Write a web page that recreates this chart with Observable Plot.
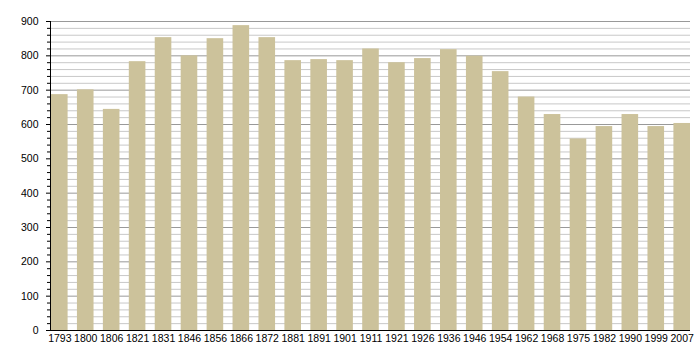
<!DOCTYPE html>
<html>
<head>
<meta charset="utf-8">
<script src="https://cdn.jsdelivr.net/npm/d3@7"></script>
<script src="https://cdn.jsdelivr.net/npm/@observablehq/plot@0.6"></script>
<style>
  html, body { margin: 0; padding: 0; background: #fff; }
  #chart svg { display: block; }
</style>
</head>
<body>
<div id="chart"></div>
<script>
const years = ["1793","1800","1806","1821","1831","1846","1856","1866","1872","1881","1891","1901","1911","1921","1926","1936","1946","1954","1962","1968","1975","1982","1990","1999","2007"];
const population = [687, 701, 644, 783, 853, 800, 850, 888, 853, 786, 789, 786, 820, 780, 792, 818, 799, 754, 680, 629, 558, 594, 629, 594, 603];
const majorTicks = d3.range(0, 901, 100);
const minorTicks = d3.range(0, 901, 20).filter(d => d % 100 !== 0);

const data = years.map((y, i) => ({year: y, value: population[i]}));

const chart = Plot.plot({
  width: 700,
  height: 360,
  marginLeft: 50,
  marginRight: 10,
  marginTop: 21,
  marginBottom: 30,
  style: {fontFamily: "'Liberation Sans', Arial, sans-serif", fontSize: "10.5px", color: "#000", background: "#fff"},
  x: {domain: years, range: [51, 690], round: false, paddingInner: 0.36, paddingOuter: 0, label: null},
  y: {domain: [0, 900], label: null},
  marks: [
    Plot.ruleY(minorTicks, {stroke: "#c8c8c8", strokeWidth: 1, strokeOpacity: 1}),
    Plot.ruleY(majorTicks, {stroke: "#999", strokeWidth: 1, strokeOpacity: 1}),
    Plot.barY(data, {x: "year", y: "value", fill: "#ccc29b", insetLeft: 0, insetRight: 0}),
    Plot.axisY(minorTicks, {tickSize: 3, text: null, stroke: "#000", strokeOpacity: 1}),
    Plot.axisY(majorTicks, {tickSize: 4, tickPadding: 8, tickFormat: d => String(d), stroke: "#000", strokeOpacity: 1, label: null}),
    Plot.axisX({tickSize: 0, tickPadding: 4, label: null}),
    Plot.frame({anchor: "left", stroke: "#000"}),
    Plot.ruleY([0], {stroke: "#000"})
  ]
});
document.getElementById("chart").append(chart);
</script>
</body>
</html>
